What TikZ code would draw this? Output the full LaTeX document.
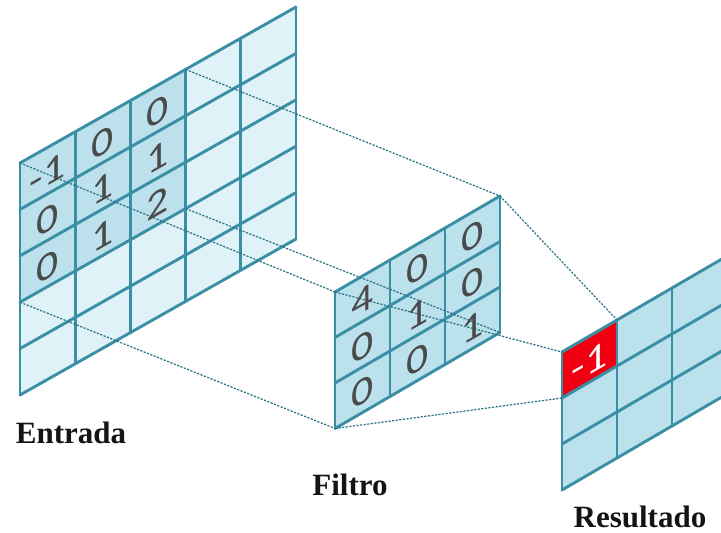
\documentclass[tikz,border=0pt]{standalone}
\usepackage{fontspec}
\setmainfont{Liberation Serif}
\newfontfamily\digitfont{Carlito}
\definecolor{gridteal}{HTML}{3A8FA5}
\definecolor{linkteal}{HTML}{2A7285}
\definecolor{cellpale}{HTML}{DFF2F8}
\definecolor{celldeep}{HTML}{BCE1EC}
\definecolor{cellmid}{HTML}{BBE1ED}
\definecolor{hitred}{HTML}{F00010}
\definecolor{digitgray}{HTML}{4A4A4A}
\begin{document}
\begin{tikzpicture}[x=1pt,y=-1pt,
  gridline/.style={draw=gridteal,line width=2.9pt,line cap=round},
  link/.style={draw=linkteal,line width=1.2pt,dash pattern=on 2.2pt off 1.4pt},
  digit/.style={text=digitgray,font=\digitfont\fontsize{39}{39}\selectfont,
    inner sep=0pt,yslant=0.57,xscale=1.12},
  hitdigit/.style={digit,text=white},
  caption/.style={font=\bfseries\fontsize{31}{31}\selectfont,text=black!92,
    anchor=base,inner sep=0pt}]
\useasboundingbox (0,0) rectangle (721,533);
\clip (0,0) rectangle (721,533);

% ---------- input: 5 x 5 sheared grid ----------
\def\inX{20}\def\inY{163}\def\inW{55.2}\def\inH{46.4}\def\inR{31.2}
\fill[cellpale] (\inX,\inY) -- ++({5*\inW},{-5*\inR}) -- ++(0,{5*\inH})
  -- ++({-5*\inW},{5*\inR}) -- cycle;
\fill[celldeep] (\inX,\inY) -- ++({3*\inW},{-3*\inR}) -- ++(0,{3*\inH})
  -- ++({-3*\inW},{3*\inR}) -- cycle;
\foreach \i in {0,...,5}
  \draw[gridline] ({\inX+\i*\inW},{\inY-\i*\inR}) -- ++(0,{5*\inH});
\foreach \j in {0,...,5}
  \draw[gridline] (\inX,{\inY+\j*\inH}) -- ++({5*\inW},{-5*\inR});
\coordinate (inTL) at (\inX,\inY);
\coordinate (inTR) at ({\inX+3*\inW},{\inY-3*\inR});
\coordinate (inBL) at (\inX,{\inY+3*\inH});
\coordinate (inBR) at ({\inX+3*\inW},{\inY+3*\inH-3*\inR});

% ---------- filter: 3 x 3 sheared grid ----------
\def\fX{335}\def\fY{292}\def\fW{55}\def\fH{45.5}\def\fR{32}
\fill[cellmid] (\fX,\fY) -- ++({3*\fW},{-3*\fR}) -- ++(0,{3*\fH})
  -- ++({-3*\fW},{3*\fR}) -- cycle;
\foreach \i in {0,...,3}
  \draw[gridline] ({\fX+\i*\fW},{\fY-\i*\fR}) -- ++(0,{3*\fH});
\foreach \j in {0,...,3}
  \draw[gridline] (\fX,{\fY+\j*\fH}) -- ++({3*\fW},{-3*\fR});
\coordinate (fTL) at (\fX,\fY);
\coordinate (fTR) at ({\fX+3*\fW},{\fY-3*\fR});
\coordinate (fBL) at (\fX,{\fY+3*\fH});
\coordinate (fBR) at ({\fX+3*\fW},{\fY+3*\fH-3*\fR});

% ---------- result: sheared grid running off the right edge ----------
\def\rX{562}\def\rY{352}\def\rW{55}\def\rH{46}\def\rR{32}
\fill[cellmid] (\rX,\rY) -- ++({3*\rW},{-3*\rR}) -- ++(0,{3*\rH})
  -- ++({-3*\rW},{3*\rR}) -- cycle;
\fill[hitred] (\rX,\rY) -- ++(\rW,-\rR) -- ++(0,\rH) -- ++(-\rW,\rR) -- cycle;
\foreach \i in {0,...,3}
  \draw[gridline] ({\rX+\i*\rW},{\rY-\i*\rR}) -- ++(0,{3*\rH});
\foreach \j in {0,...,3}
  \draw[gridline] (\rX,{\rY+\j*\rH}) -- ++({3*\rW},{-3*\rR});
\coordinate (rTL) at (\rX,\rY);
\coordinate (rhitTR) at ({\rX+\rW},{\rY-\rR});
\coordinate (rhitBL) at (\rX,{\rY+\rH});

% ---------- projection lines ----------
\draw[link] (inTL) -- (fTL);
\draw[link] (inTR) -- (fTR);
\draw[link] (inBL) -- (fBL);
\draw[link] (inBR) -- (fBR);
\draw[link] (fTL) -- (rTL);
\draw[link] (fTR) -- (rhitTR);
\draw[link] (fBL) -- (rhitBL);

% ---------- cell values ----------
\foreach \v [count=\k from 0] in {-1,0,0,0,1,1,0,1,2}{
  \pgfmathtruncatemacro\ci{mod(\k,3)}
  \pgfmathtruncatemacro\cj{div(\k,3)}
  \node[digit] (in-\ci-\cj) at ({\inX+(\ci+0.5)*\inW},{\inY+(\cj+0.5)*\inH-(\ci+0.5)*\inR+3}) {\v};
}
\foreach \v [count=\k from 0] in {4,0,0,0,1,0,0,0,1}{
  \pgfmathtruncatemacro\ci{mod(\k,3)}
  \pgfmathtruncatemacro\cj{div(\k,3)}
  \node[digit] (f-\ci-\cj) at ({\fX+(\ci+0.5)*\fW},{\fY+(\cj+0.5)*\fH-(\ci+0.5)*\fR+2}) {\v};
}
\node[hitdigit] (r-0-0) at ({\rX+0.5*\rW},{\rY+0.5*\rH-0.5*\rR+3}) {-1};

% ---------- captions ----------
\node[caption] (capin) at (71,443) {Entrada};
\node[caption] (capf) at (350,495) {Filtro};
\node[caption] (capr) at (640,527) {Resultado};
\end{tikzpicture}
\end{document}
